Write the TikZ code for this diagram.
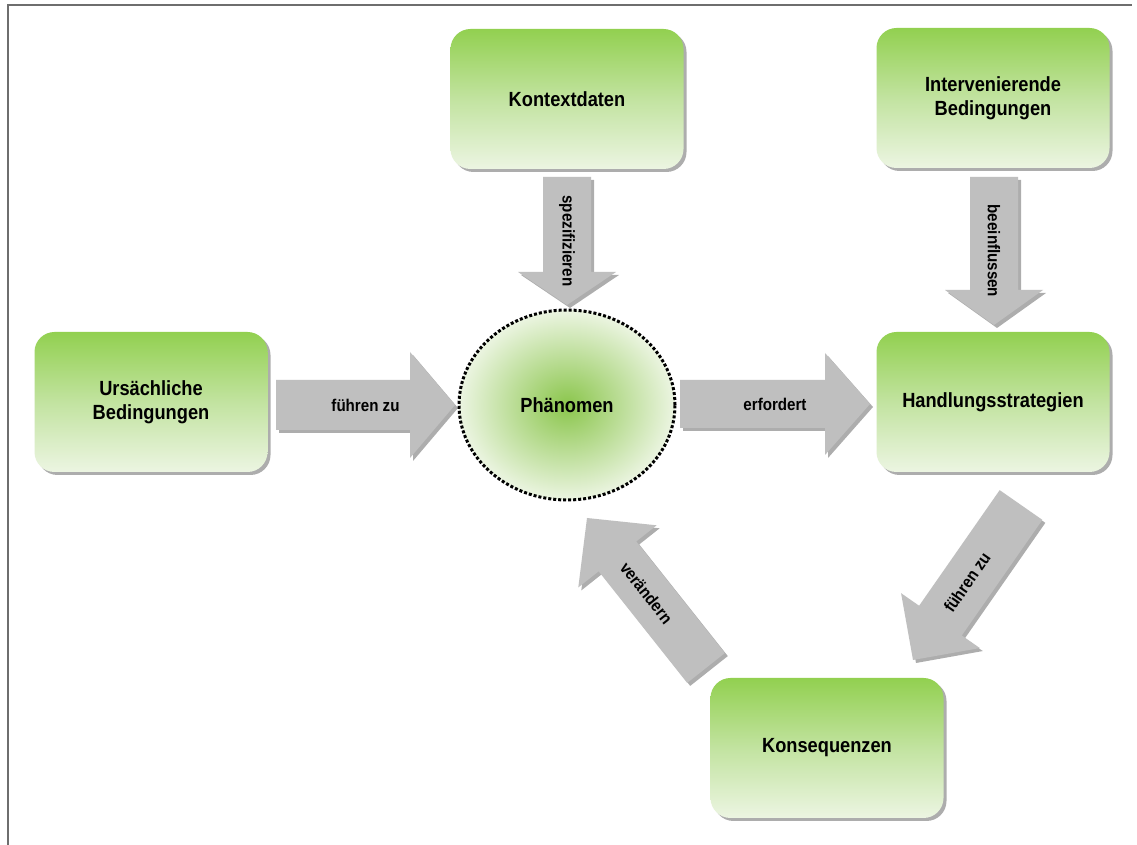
\documentclass[tikz,border=0pt]{standalone}
\usepackage{fontspec}
\setmainfont[FakeStretch=0.89]{Liberation Sans}
\usetikzlibrary{calc,shadows,shapes.geometric}
\definecolor{gtop}{RGB}{146,208,80}
\definecolor{gmid}{RGB}{194,227,160}
\definecolor{gbot}{RGB}{236,245,226}
\definecolor{arrowgray}{RGB}{191,191,191}
\definecolor{framegray}{RGB}{110,110,110}
\tikzset{
  softshadow/.style={drop shadow={shadow xshift=3pt, shadow yshift=-3pt, fill=black, opacity=0.32}},
  box/.style={rounded corners=20pt, minimum width=233pt, minimum height=140pt,
    top color=gtop, bottom color=gbot, middle color=gmid, align=center,
    font=\bfseries\fontsize{20.5}{24}\selectfont, softshadow},
  phen/.style={ellipse, minimum width=216pt, minimum height=190pt, shading=radial,
    inner color=gtop!95!black, outer color=gbot, draw=black, line width=3pt,
    dash pattern=on 3pt off 2pt, font=\bfseries\fontsize{20.5}{24}\selectfont},
  arrowfill/.style={fill=arrowgray, softshadow},
  arrowlabel/.style={font=\bfseries\fontsize{17}{20}\selectfont, inner sep=0pt},
}
% name, tail, tip, half shaft width, half head width, head length, label, label rotation
\newcommand{\blockarrow}[8]{%
  \coordinate (#1-t) at #2;
  \coordinate (#1-p) at #3;
  \coordinate (#1-h) at ($(#1-p)!#6!(#1-t)$);
  \fill[arrowfill] ($(#1-t)!#4!90:(#1-p)$) -- ($(#1-h)!#4!90:(#1-p)$) -- ($(#1-h)!#5!90:(#1-p)$)
    -- (#1-p) -- ($(#1-h)!#5!-90:(#1-p)$) -- ($(#1-h)!#4!-90:(#1-p)$) -- ($(#1-t)!#4!-90:(#1-p)$) -- cycle;
  \node[arrowlabel, rotate=#8] (#1-l) at ($(#1-t)!0.5!(#1-p)$) {#7};
}
\begin{document}
\begin{tikzpicture}[x=1pt,y=1pt]
\useasboundingbox (0,0) rectangle (1137,845);
\fill[white] (0,0) rectangle (1137,845);
\draw[framegray, line width=1.5pt] (8,0) -- (8,840) -- (1132,840);

% boxes
\node[box] (kontext) at (567,746) {Kontextdaten};
\node[box] (interv) at (993,747) {Intervenierende\\Bedingungen};
\node[box] (ursach) at (151,443) {Ursächliche\\Bedingungen};
\node[box] (handl) at (993,443) {Handlungsstrategien};
\node[box] (konseq) at (827,97) {Konsequenzen};

% arrows
\blockarrow{a1}{(276,440)}{(455,440)}{25pt}{53pt}{45pt}{führen zu}{0}
\blockarrow{a2}{(680,441)}{(870,441)}{24pt}{51pt}{45pt}{erfordert}{0}
\blockarrow{a3}{(567,668)}{(567,540)}{24pt}{49pt}{33pt}{spezifizieren}{-90}
\blockarrow{a4}{(994,668)}{(994,520)}{24pt}{49pt}{35pt}{beeinflussen}{-90}
\blockarrow{a5}{(1021,340)}{(913,185)}{26pt}{48pt}{48pt}{führen zu}{55.1}
\blockarrow{a6}{(706,177)}{(587,327)}{24pt}{50pt}{49pt}{verändern}{-51.6}

% phenomenon
\node[phen] (phaen) at (567,440) {Phänomen};
\end{tikzpicture}
\end{document}
